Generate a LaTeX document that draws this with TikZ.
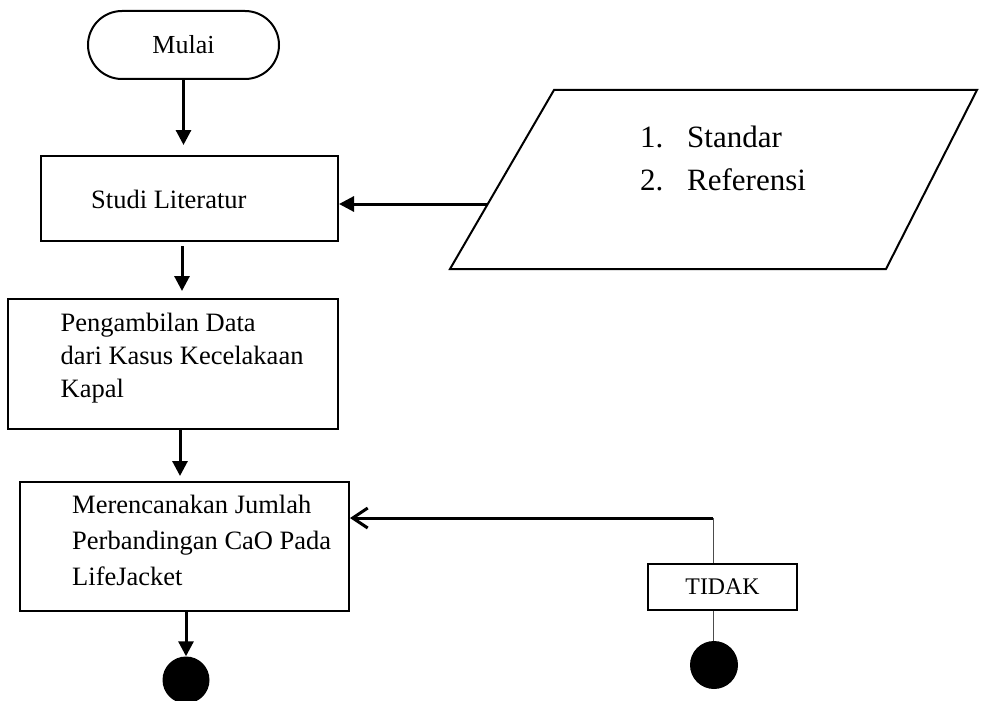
\documentclass[tikz,border=0pt]{standalone}
\usepackage{fontspec}
\setmainfont{Liberation Serif}
\usetikzlibrary{arrows.meta}
\begin{document}
\begin{tikzpicture}[x=1pt,y=-1pt,
  box/.style={draw,line width=2pt,inner sep=0pt},
  txt/.style={inner sep=0pt,font=\fontsize{26.5}{33}\selectfont,align=left},
  flow/.style={line width=3pt,-{Triangle[length=15pt,width=15pt]}},
  back/.style={line width=3pt,-{Straight Barb[length=15pt,width=20pt]}},
  thinline/.style={line width=1pt,draw=black!70},
  dot/.style={circle,fill=black,inner sep=0pt}
]
\useasboundingbox (0,0) rectangle (989,701);

\node[box,rounded corners=34pt,minimum width=191pt,minimum height=68pt,font=\fontsize{26}{30}\selectfont] (mulai) at (183.5,45) {Mulai};

\node[box,minimum width=297pt,minimum height=85pt] (studi) at (189.5,198.5) {};
\node[txt,anchor=base west] (tstudi) at (91,208) {Studi Literatur};

\node[box,minimum width=330pt,minimum height=130pt] (peng) at (173,364) {};
\node[txt,anchor=north west] (tpeng) at (60.5,308) {\strut Pengambilan Data\\dari Kasus Kecelakaan\\Kapal};

\node[box,minimum width=329pt,minimum height=129pt] (meren) at (184.5,546.5) {};
\node[txt,anchor=north west,font=\fontsize{26.5}{36}\selectfont] (tmeren) at (72,488) {\strut Merencanakan Jumlah\\Perbandingan CaO Pada\\LifeJacket};

\draw[line width=2pt] (554,90) -- (977,90) -- (886,269) -- (450,269) -- cycle;
\coordinate (inL) at (488,204);
\node[txt,anchor=north west,font=\fontsize{31}{43}\selectfont] (tlist) at (640,117) {\strut\makebox[47pt][l]{1.}Standar\\\makebox[47pt][l]{2.}Referensi};

\node[box,minimum width=149pt,minimum height=46pt,font=\fontsize{23.8}{28}\selectfont] (tidak) at (722.5,587) {TIDAK};

\node[dot,minimum size=47pt] (c1) at (186,680) {};
\node[dot,minimum size=48pt] (c2) at (714,665) {};

\draw[flow,shorten >=10pt] (mulai.south) -- (mulai.south |- studi.north);
\draw[flow,shorten <=4pt,shorten >=7pt] ([xshift=-7.5pt]studi.south) -- ([xshift=-7.5pt]studi.south |- peng.north);
\draw[flow,shorten >=5pt] ([xshift=7pt]peng.south) -- ([xshift=7pt]peng.south |- meren.north);
\draw[flow] ([xshift=1.5pt]meren.south) -- ([xshift=1.5pt]meren.south |- c1.north);
\draw[flow] (inL) -- (inL -| studi.east);

\coordinate (j) at (713,518);
\draw[back] (j) -- (j -| meren.east);
\draw[thinline] (j) -- (j |- tidak.north);
\draw[thinline] (tidak.south -| j) -- (c2.north -| j);
\end{tikzpicture}
\end{document}
